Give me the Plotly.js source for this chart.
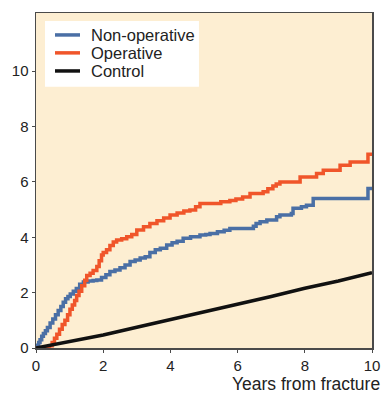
<!DOCTYPE html>
<html>
<head>
<meta charset="utf-8">
<script src="https://cdn.plot.ly/plotly-3.0.1.min.js"></script>
<style>html,body{margin:0;padding:0;background:#fff;}#chart{width:382px;height:395px;}</style>
</head>
<body>
<div id="chart"></div>
<script>
const seriesNames = ["Non-operative", "Operative", "Control"];

const nonOpX = [0,0.04,0.08,0.12,0.17,0.22,0.28,0.34,0.42,0.5,0.58,0.66,0.74,0.81,0.88,0.95,1.02,1.11,1.2,1.3,1.41,1.55,1.7,1.81,1.95,2.08,2.2,2.35,2.5,2.65,2.8,2.95,3.1,3.25,3.39,3.55,3.7,3.89,4.05,4.2,4.38,4.6,4.88,5.05,5.18,5.4,5.6,5.77,6.0,6.47,6.55,6.67,6.87,7.16,7.26,7.6,7.65,7.9,8.05,8.25,9.88,10];
const nonOpY = [0,0.1,0.2,0.3,0.42,0.52,0.62,0.74,0.9,1.05,1.2,1.35,1.5,1.65,1.78,1.86,1.95,2.05,2.15,2.3,2.38,2.42,2.44,2.46,2.55,2.65,2.76,2.82,2.9,3.0,3.12,3.18,3.25,3.3,3.45,3.55,3.6,3.72,3.8,3.86,3.96,4.02,4.08,4.1,4.14,4.2,4.25,4.32,4.32,4.4,4.5,4.56,4.62,4.74,4.8,4.86,5.05,5.1,5.16,5.4,5.76,5.8];

const opX = [0,0.3,0.4,0.48,0.55,0.62,0.7,0.78,0.86,0.94,1.01,1.08,1.15,1.21,1.28,1.36,1.45,1.51,1.61,1.7,1.81,1.88,1.95,2.0,2.1,2.2,2.3,2.4,2.55,2.7,2.85,3.0,3.2,3.39,3.6,3.8,3.99,4.2,4.4,4.58,4.75,4.88,5.18,5.5,5.77,5.95,6.15,6.37,6.5,6.76,6.9,7.05,7.15,7.26,7.8,7.86,8.35,8.55,9.05,9.35,9.88,10];
const opY = [0,0.03,0.08,0.2,0.35,0.5,0.68,0.85,1.0,1.2,1.4,1.55,1.72,1.9,2.05,2.25,2.45,2.62,2.7,2.8,2.94,3.15,3.36,3.45,3.55,3.7,3.83,3.9,3.95,4.02,4.1,4.26,4.38,4.5,4.6,4.7,4.8,4.88,4.95,4.98,5.1,5.22,5.22,5.28,5.33,5.38,5.45,5.58,5.58,5.64,5.75,5.85,5.92,6.0,6.0,6.18,6.3,6.42,6.6,6.72,7.0,7.05];

const ctrlX = [0,1,2,3,4,5,6,7,8,9,10];
const ctrlY = [0,0.24,0.47,0.75,1.02,1.3,1.58,1.86,2.16,2.42,2.72];

const xTicks = [0,2,4,6,8,10];
const yTicks = [0,2,4,6,8,10];
const xTitle = "Years from fracture";

const colors = ["#4a6fa5", "#f0552a", "#111111"];
const fontFam = "Liberation Sans, Arial, sans-serif";

const traces = [
  {x: nonOpX, y: nonOpY, name: seriesNames[0], mode: "lines", line: {color: colors[0], width: 3.5, shape: "hv"}},
  {x: opX, y: opY, name: seriesNames[1], mode: "lines", line: {color: colors[1], width: 3.5, shape: "hv"}},
  {x: ctrlX, y: ctrlY, name: seriesNames[2], mode: "lines", line: {color: colors[2], width: 3.5, shape: "linear"}}
];

const axisCommon = {
  showgrid: false, zeroline: false, showline: true, mirror: true,
  linecolor: "#4a4a4a", linewidth: 1.5, ticks: "outside", ticklen: 3, tickcolor: "#4a4a4a",
  tickfont: {family: fontFam, size: 15, color: "#222"}
};

// custom legend (paper coordinates)
const legendRows = [0.9345, 0.881, 0.827];
const shapes = [{
  type: "rect", xref: "paper", yref: "paper",
  x0: 0.0268, x1: 0.485, y0: 0.78, y1: 0.976,
  fillcolor: "#ffffff", line: {width: 0}, layer: "above"
}];
const annotations = [];
seriesNames.forEach((nm, i) => {
  shapes.push({
    type: "line", xref: "paper", yref: "paper",
    x0: 0.0565, x1: 0.131, y0: legendRows[i], y1: legendRows[i],
    line: {color: colors[i], width: 3.5}, layer: "above"
  });
  annotations.push({
    text: nm, xref: "paper", yref: "paper", x: 0.158, y: legendRows[i],
    xanchor: "left", yanchor: "middle", showarrow: false,
    font: {family: fontFam, size: 16.5, color: "#222"}
  });
});
annotations.push({
  text: xTitle, xref: "paper", yref: "paper", x: 1.026, y: -0.139,
  xanchor: "right", yanchor: "bottom", showarrow: false, borderpad: 0,
  font: {family: fontFam, size: 17.5, color: "#222"}
});

const layout = {
  width: 382, height: 395,
  margin: {l: 36, r: 10, t: 13, b: 47},
  paper_bgcolor: "#ffffff",
  plot_bgcolor: "#fdeed2",
  showlegend: false,
  xaxis: Object.assign({}, axisCommon, {range: [0, 10], tickvals: xTicks}),
  yaxis: Object.assign({}, axisCommon, {range: [0, 12.1], tickvals: yTicks}),
  shapes: shapes,
  annotations: annotations
};

Plotly.newPlot("chart", traces, layout, {displayModeBar: false, staticPlot: true});
</script>
</body>
</html>
